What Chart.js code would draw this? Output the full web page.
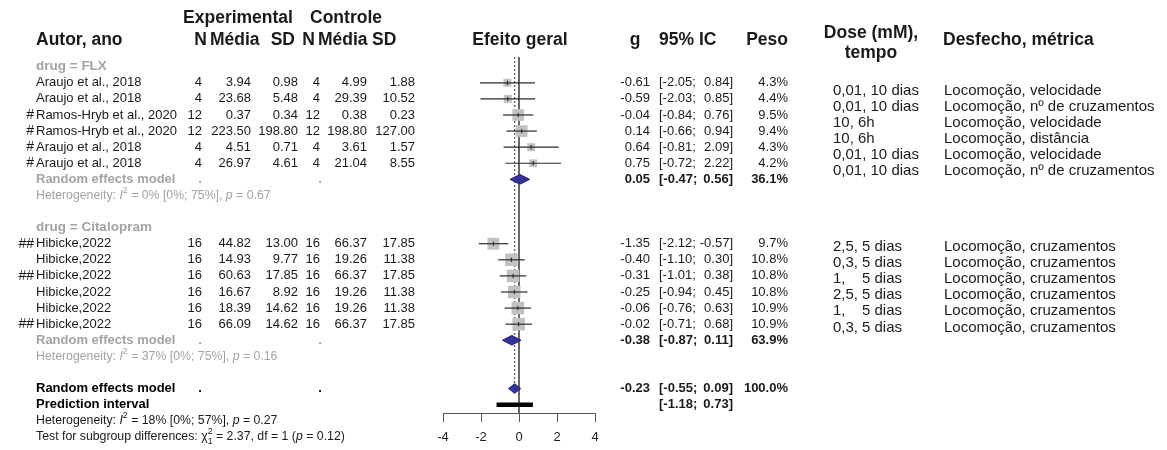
<!DOCTYPE html>
<html>
<head>
<meta charset="utf-8">
<script src="https://cdn.jsdelivr.net/npm/chart.js@4/dist/chart.umd.min.js"></script>
<style>
  html, body { margin: 0; padding: 0; background: #fff; }
  canvas { display: block; }
</style>
</head>
<body>
<canvas id="forest" width="1167" height="450"></canvas>
<script>
// studies (one entry per row of the forest plot)
const authors = ['Araujo et al., 2018', 'Araujo et al., 2018', 'Ramos-Hryb et al., 2020', 'Ramos-Hryb et al., 2020',
  'Araujo et al., 2018', 'Araujo et al., 2018', 'Hibicke,2022', 'Hibicke,2022', 'Hibicke,2022', 'Hibicke,2022',
  'Hibicke,2022', 'Hibicke,2022'];
const marks = ['', '', '#', '#', '#', '#', '##', '', '##', '', '', '##'];
const drug = ['FLX', 'FLX', 'FLX', 'FLX', 'FLX', 'FLX',
  'Citalopram', 'Citalopram', 'Citalopram', 'Citalopram', 'Citalopram', 'Citalopram'];
const nExp = [4, 4, 12, 12, 4, 4, 16, 16, 16, 16, 16, 16];
const meanExp = [3.94, 23.68, 0.37, 223.50, 4.51, 26.97, 44.82, 14.93, 60.63, 16.67, 18.39, 66.09];
const sdExp = [0.98, 5.48, 0.34, 198.80, 0.71, 4.61, 13.00, 9.77, 17.85, 8.92, 14.62, 14.62];
const nCtl = [4, 4, 12, 12, 4, 4, 16, 16, 16, 16, 16, 16];
const meanCtl = [4.99, 29.39, 0.38, 198.80, 3.61, 21.04, 66.37, 19.26, 66.37, 19.26, 19.26, 66.37];
const sdCtl = [1.88, 10.52, 0.23, 127.00, 1.57, 8.55, 17.85, 11.38, 17.85, 11.38, 11.38, 17.85];
const hedgesG = [-0.61, -0.59, -0.04, 0.14, 0.64, 0.75, -1.35, -0.40, -0.31, -0.25, -0.06, -0.02];
const ciLow = [-2.05, -2.03, -0.84, -0.66, -0.81, -0.72, -2.12, -1.10, -1.01, -0.94, -0.76, -0.71];
const ciHigh = [0.84, 0.85, 0.76, 0.94, 2.09, 2.22, -0.57, 0.30, 0.38, 0.45, 0.63, 0.68];
const weight = [4.3, 4.4, 9.5, 9.4, 4.3, 4.2, 9.7, 10.8, 10.8, 10.8, 10.9, 10.9];
const dose = ['0,01', '0,01', '10', '10', '0,01', '0,01', '2,5', '0,3', '1', '2,5', '1', '0,3'];
const doseTime = ['10 dias', '10 dias', '6h', '6h', '10 dias', '10 dias',
  '5 dias', '5 dias', '5 dias', '5 dias', '5 dias', '5 dias'];
const outcome = ['Locomoção, velocidade', 'Locomoção, nº de cruzamentos', 'Locomoção, velocidade',
  'Locomoção, distância', 'Locomoção, velocidade', 'Locomoção, nº de cruzamentos',
  'Locomoção, cruzamentos', 'Locomoção, cruzamentos', 'Locomoção, cruzamentos',
  'Locomoção, cruzamentos', 'Locomoção, cruzamentos', 'Locomoção, cruzamentos'];

// subgroups
const groups = ['FLX', 'Citalopram'];
const groupG = [0.05, -0.38];
const groupLow = [-0.47, -0.87];
const groupHigh = [0.56, 0.11];
const groupWeight = [36.1, 63.9];
const groupI2 = [0, 37];
const groupI2Low = [0, 0];
const groupI2High = [75, 75];
const groupP = [0.67, 0.16];

// overall
const totalG = -0.23, totalLow = -0.55, totalHigh = 0.09, totalWeight = 100.0;
const predLow = -1.18, predHigh = 0.73;
const totalI2 = 18, totalI2Low = 0, totalI2High = 57, totalP = 0.27;
const subChi2 = 2.37, subDf = 1, subP = 0.12;

const xTicks = [-4, -2, 0, 2, 4];

const F = '"Liberation Sans", Arial, Helvetica, sans-serif';
const GRAY = '#a3a3a3';

// line index of every row
const studyLine = [], headLine = [], reLine = [], hetLine = [];
let L = 0;
groups.forEach((name, gi) => {
  headLine[gi] = L++;
  drug.forEach((d, i) => { if (d === name) studyLine[i] = L++; });
  reLine[gi] = L++;
  hetLine[gi] = L++;
  L++;
});
const totalLine = L, predLine = L + 1, totalHetLine = L + 2, testLine = L + 3;

const yTop = -0.603, yBottom = 21.52;

function diamond(est, lo, hi, y) {
  return [{x: lo, y: y}, {x: est, y: y - 0.3}, {x: hi, y: y}, {x: est, y: y + 0.3}, {x: lo, y: y}];
}

const datasets = [];
// point estimate ticks
datasets.push({
  type: 'scatter', order: 0,
  data: hedgesG.map((v, i) => ({x: v, y: studyLine[i]})),
  pointStyle: 'line', rotation: 90, pointRadius: 2.2, borderColor: '#222', borderWidth: 1
});
// confidence intervals
hedgesG.forEach((v, i) => {
  datasets.push({
    type: 'line', order: 1,
    data: [{x: ciLow[i], y: studyLine[i]}, {x: ciHigh[i], y: studyLine[i]}],
    borderColor: '#2a2a2a', borderWidth: 1.2, pointRadius: 0, fill: false
  });
});
// study squares
datasets.push({
  type: 'scatter', order: 2,
  data: hedgesG.map((v, i) => ({x: v, y: studyLine[i]})),
  pointStyle: 'rect',
  pointRadius: weight.map(w => 3.8 * Math.sqrt(w) / Math.SQRT2),
  backgroundColor: '#c2c2c2', borderWidth: 0
});
// subgroup + overall diamonds
groups.forEach((name, gi) => {
  datasets.push({
    type: 'line', order: 1,
    data: diamond(groupG[gi], groupLow[gi], groupHigh[gi], reLine[gi]),
    borderColor: '#1f1f6a', backgroundColor: '#33339a', borderWidth: 1, pointRadius: 0, fill: 'shape'
  });
});
datasets.push({
  type: 'line', order: 1,
  data: diamond(totalG, totalLow, totalHigh, totalLine),
  borderColor: '#1f1f6a', backgroundColor: '#33339a', borderWidth: 1, pointRadius: 0, fill: 'shape'
});
// prediction interval
datasets.push({
  type: 'line', order: 1,
  data: [{x: predLow, y: predLine}, {x: predHigh, y: predLine}],
  borderColor: '#000', borderWidth: 4.5, borderCapStyle: 'butt', pointRadius: 0, fill: false
});
// overall effect (dotted) and no-effect line
datasets.push({
  type: 'line', order: 4,
  data: [{x: totalG, y: yTop}, {x: totalG, y: totalLine}],
  borderColor: '#6a6a6a', borderWidth: 1.4, borderDash: [2, 2], pointRadius: 0, fill: false
});
datasets.push({
  type: 'line', order: 5,
  data: [{x: 0, y: yTop}, {x: 0, y: yBottom}],
  borderColor: '#444', borderWidth: 1.6, pointRadius: 0, fill: false
});

function txt(c, s, x, y, size, opt) {
  opt = opt || {};
  c.font = (opt.bold ? 'bold ' : '') + size + 'px ' + F;
  c.fillStyle = opt.color || '#1a1a1a';
  c.textAlign = opt.align || 'left';
  c.textBaseline = 'middle';
  c.fillText(s, x, y);
}

function rich(c, x, y, parts, size, color) {
  c.fillStyle = color;
  c.textAlign = 'left';
  c.textBaseline = 'middle';
  let cx = x;
  parts.forEach(([t, s]) => {
    if (s === 'supsub') {
      c.font = (size * 0.72) + 'px ' + F;
      c.fillText(t[0], cx, y - size * 0.42);
      c.fillText(t[1], cx, y + size * 0.38);
      cx += Math.max(c.measureText(t[0]).width, c.measureText(t[1]).width);
    } else if (s === 'sup') {
      c.font = (size * 0.72) + 'px ' + F;
      c.fillText(t, cx, y - size * 0.42);
      cx += c.measureText(t).width;
    } else {
      c.font = (s === 'i' ? 'italic ' : '') + size + 'px ' + F;
      c.fillText(t, cx, y);
      cx += c.measureText(t).width;
    }
  });
}

const f2 = v => v.toFixed(2);

function stats(c, y, est, lo, hi, w, bold) {
  const o = {bold: bold, align: 'right'};
  if (est !== null) txt(c, f2(est), 650, y, 13, o);
  txt(c, '[' + f2(lo) + ';', 659, y, 13, {bold: bold});
  txt(c, f2(hi) + ']', 733, y, 13, o);
  if (w !== null) txt(c, w.toFixed(1) + '%', 788, y, 13, o);
}

const tablePlugin = {
  id: 'table',
  afterDraw(chart) {
    const c = chart.ctx;
    const Y = l => chart.scales.y.getPixelForValue(l);
    const H = 17.5;
    c.save();

    // headers
    txt(c, 'Experimental', 238, 18, H, {bold: true, align: 'center'});
    txt(c, 'Controle', 346, 18, H, {bold: true, align: 'center'});
    txt(c, 'Autor, ano', 36, 40, H, {bold: true});
    txt(c, 'N', 207, 40, H, {bold: true, align: 'right'});
    txt(c, 'Média', 210, 40, H, {bold: true});
    txt(c, 'SD', 295, 40, H, {bold: true, align: 'right'});
    txt(c, 'N', 315, 40, H, {bold: true, align: 'right'});
    txt(c, 'Média', 318, 40, H, {bold: true});
    txt(c, 'SD', 372, 40, H, {bold: true});
    txt(c, 'Efeito geral', 520, 40, H, {bold: true, align: 'center'});
    txt(c, 'g', 635, 40, H, {bold: true, align: 'center'});
    txt(c, '95% IC', 659, 40, H, {bold: true});
    txt(c, 'Peso', 788, 40, H, {bold: true, align: 'right'});
    txt(c, 'Dose (mM),', 871, 33, H, {bold: true, align: 'center'});
    txt(c, 'tempo', 871, 53, H, {bold: true, align: 'center'});
    txt(c, 'Desfecho, métrica', 943, 40, H, {bold: true});

    const doseShift = [0.5, 0.2];
    const timeColumn = [false, true];
    groups.forEach((name, gi) => {
      txt(c, 'drug = ' + name, 36, Y(headLine[gi]), 13.5, {bold: true, color: GRAY});
      drug.forEach((d, i) => {
        if (d !== name) return;
        const y = Y(studyLine[i]);
        if (marks[i]) txt(c, marks[i], 34, y, 14, {align: 'right'});
        txt(c, authors[i], 36, y, 13);
        txt(c, String(nExp[i]), 202, y, 13, {align: 'right'});
        txt(c, f2(meanExp[i]), 251, y, 13, {align: 'right'});
        txt(c, f2(sdExp[i]), 298, y, 13, {align: 'right'});
        txt(c, String(nCtl[i]), 320, y, 13, {align: 'right'});
        txt(c, f2(meanCtl[i]), 367, y, 13, {align: 'right'});
        txt(c, f2(sdCtl[i]), 415, y, 13, {align: 'right'});
        stats(c, y, hedgesG[i], ciLow[i], ciHigh[i], weight[i], false);

        const yd = Y(studyLine[i] + doseShift[gi]);
        if (timeColumn[gi]) {
          txt(c, dose[i] + ',', 833, yd, 15);
          txt(c, doseTime[i], 862, yd, 15);
        } else {
          txt(c, dose[i] + ', ' + doseTime[i], 833, yd, 15);
        }
        txt(c, outcome[i], 944, yd, 15);
      });
      const yr = Y(reLine[gi]);
      txt(c, 'Random effects model', 36, yr, 13, {bold: true, color: GRAY});
      txt(c, '.', 200, yr, 13, {bold: true, color: GRAY, align: 'center'});
      txt(c, '.', 320, yr, 13, {bold: true, color: GRAY, align: 'center'});
      stats(c, yr, groupG[gi], groupLow[gi], groupHigh[gi], groupWeight[gi], true);
      rich(c, 36, Y(hetLine[gi]), [['Heterogeneity: ', 'n'], ['I', 'i'], ['2', 'sup'],
        [' = ' + groupI2[gi] + '% [' + groupI2Low[gi] + '%; ' + groupI2High[gi] + '%], ', 'n'],
        ['p', 'i'], [' = ' + f2(groupP[gi]), 'n']], 12.3, GRAY);
    });

    const yt = Y(totalLine);
    txt(c, 'Random effects model', 36, yt, 13, {bold: true, color: '#000'});
    txt(c, '.', 200, yt, 13, {bold: true, color: '#000', align: 'center'});
    txt(c, '.', 320, yt, 13, {bold: true, color: '#000', align: 'center'});
    stats(c, yt, totalG, totalLow, totalHigh, totalWeight, true);
    const yp = Y(predLine);
    txt(c, 'Prediction interval', 36, yp, 13, {bold: true, color: '#000'});
    stats(c, yp, null, predLow, predHigh, null, true);
    rich(c, 36, Y(totalHetLine), [['Heterogeneity: ', 'n'], ['I', 'i'], ['2', 'sup'],
      [' = ' + totalI2 + '% [' + totalI2Low + '%; ' + totalI2High + '%], ', 'n'],
      ['p', 'i'], [' = ' + f2(totalP), 'n']], 12.3, '#1a1a1a');
    rich(c, 36, Y(testLine), [['Test for subgroup differences: ', 'n'], ['χ', 'n'], [['2', String(subDf)], 'supsub'],
      [' = ' + f2(subChi2) + ', df = ' + subDf + ' (', 'n'], ['p', 'i'], [' = ' + f2(subP) + ')', 'n']], 12.3, '#1a1a1a');

    c.restore();
  }
};

new Chart(document.getElementById('forest'), {
  type: 'scatter',
  data: {datasets: datasets},
  options: {
    responsive: false,
    animation: false,
    devicePixelRatio: 1,
    layout: {padding: {left: 443, right: 572, top: 57, bottom: 0}},
    plugins: {legend: {display: false}, tooltip: {enabled: false}},
    scales: {
      x: {
        type: 'linear', min: -4, max: 4,
        afterBuildTicks: s => { s.ticks = xTicks.map(v => ({value: v})); },
        afterFit: s => { s.height = 37; },
        ticks: {padding: 8, color: '#222', font: {family: F, size: 13}},
        grid: {drawOnChartArea: false, drawTicks: true, tickLength: 9, color: '#555', lineWidth: 1},
        border: {display: true, color: '#555', width: 1}
      },
      y: {type: 'linear', display: false, reverse: true, min: yTop, max: yBottom}
    }
  },
  plugins: [tablePlugin]
});
</script>
</body>
</html>
